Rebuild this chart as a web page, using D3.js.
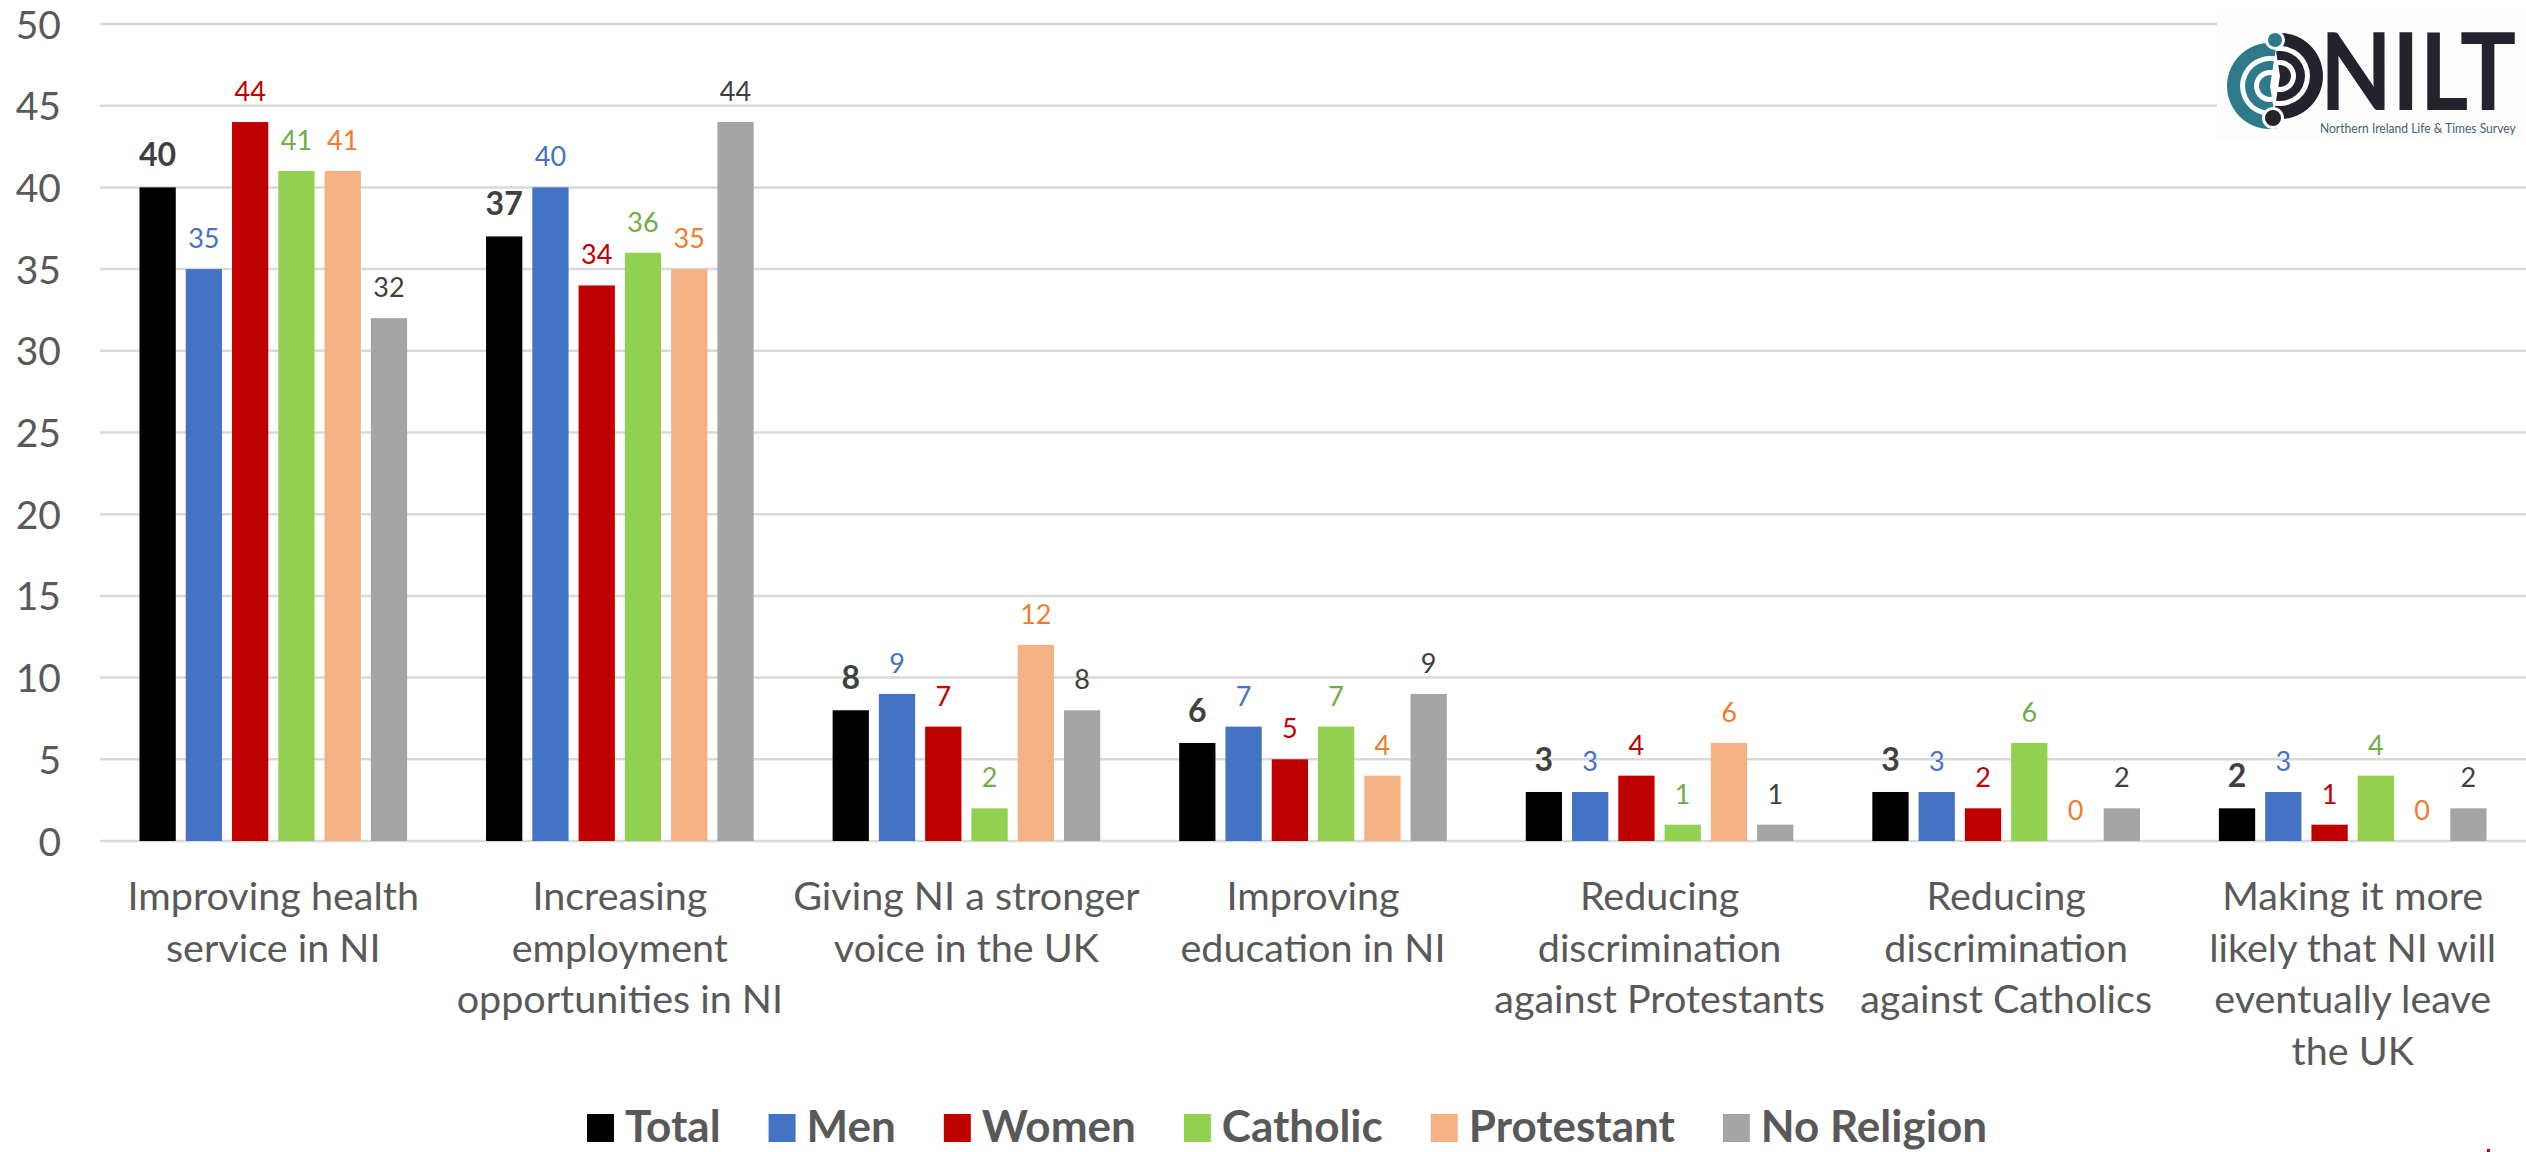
<!DOCTYPE html>
<html>
<head>
<meta charset="utf-8">
<script src="https://cdn.jsdelivr.net/npm/d3@7"></script>
<style>
  html, body { margin: 0; padding: 0; background: #ffffff; }
  svg { display: block; }
  text { font-family: Lato, "Open Sans", "Noto Sans", sans-serif; }
</style>
</head>
<body>
<svg id="chart" width="2526" height="1152"></svg>
<script>
// ---------- data ----------
const categories = [
  "Improving health service in NI",
  "Increasing employment opportunities in NI",
  "Giving NI a stronger voice in the UK",
  "Improving education in NI",
  "Reducing discrimination against Protestants",
  "Reducing discrimination against Catholics",
  "Making it more likely that NI will eventually leave the UK"
];
const categoryLines = [
  ["Improving health", "service in NI"],
  ["Increasing", "employment", "opportunities in NI"],
  ["Giving NI a stronger", "voice in the UK"],
  ["Improving", "education in NI"],
  ["Reducing", "discrimination", "against Protestants"],
  ["Reducing", "discrimination", "against Catholics"],
  ["Making it more", "likely that NI will", "eventually leave", "the UK"]
];
const seriesNames = ["Total", "Men", "Women", "Catholic", "Protestant", "No Religion"];
const totalValues      = [40, 37, 8, 6, 3, 3, 2];
const menValues        = [35, 40, 9, 7, 3, 3, 3];
const womenValues      = [44, 34, 7, 5, 4, 2, 1];
const catholicValues   = [41, 36, 2, 7, 1, 6, 4];
const protestantValues = [41, 35, 12, 4, 6, 0, 0];
const noReligionValues = [32, 44, 8, 9, 1, 2, 2];
const yTicks = [0, 5, 10, 15, 20, 25, 30, 35, 40, 45, 50];

// ---------- styles ----------
const barColors   = ["#000000", "#4472C4", "#C00000", "#92D050", "#F4B183", "#A5A5A5"];
const labelColors = ["#404040", "#4472C4", "#C00000", "#70AD47", "#ED7D31", "#404040"];
const labelBold   = [true, false, false, false, false, false];

const seriesValues = [totalValues, menValues, womenValues, catholicValues, protestantValues, noReligionValues];
const table = categories.map((c, i) => {
  const row = { category: c, lines: categoryLines[i] };
  seriesNames.forEach((s, j) => row[s] = seriesValues[j][i]);
  return row;
});

const svg = d3.select("#chart");
const plot = { left: 100, right: 2526, top: 24, bottom: 841 };

const x0 = d3.scaleBand().domain(categories).range([plot.left, plot.right]).paddingInner(0).paddingOuter(0);
const x1 = d3.scaleBand().domain(seriesNames).range([0, x0.bandwidth()]).paddingInner(0.216).paddingOuter(0.853);
const y = d3.scaleLinear().domain([0, 50]).range([plot.bottom, plot.top]);

// gridlines
svg.append("g").selectAll("line").data(yTicks).join("line")
  .attr("x1", plot.left).attr("x2", plot.right)
  .attr("y1", d => y(d)).attr("y2", d => y(d))
  .attr("stroke", "#D9D9D9").attr("stroke-width", 2.5);

// y axis labels
const yAxis = d3.axisLeft(y).tickValues(yTicks).tickSize(0).tickPadding(0);
const gy = svg.append("g").attr("transform", `translate(61,0)`).call(yAxis);
gy.select(".domain").remove();
gy.selectAll("text").attr("fill", "#595959").attr("font-size", 39)
  .attr("font-family", "Lato, 'Open Sans', sans-serif").attr("dy", "0.36em");

// bars
const groups = svg.append("g").selectAll("g").data(table).join("g")
  .attr("transform", d => `translate(${x0(d.category)},0)`);

groups.selectAll("rect").data(d => seriesNames.map((s, j) => ({ s, j, v: d[s] }))).join("rect")
  .attr("x", d => x1(d.s))
  .attr("width", x1.bandwidth())
  .attr("y", d => y(d.v))
  .attr("height", d => y(0) - y(d.v))
  .attr("fill", d => barColors[d.j]);

groups.selectAll("text.val").data(d => seriesNames.map((s, j) => ({ s, j, v: d[s] }))).join("text")
  .attr("class", "val")
  .attr("x", d => x1(d.s) + x1.bandwidth() / 2)
  .attr("y", d => y(d.v) - 21)
  .attr("text-anchor", "middle")
  .attr("font-size", d => labelBold[d.j] ? 32 : 27)
  .attr("font-weight", d => labelBold[d.j] ? 700 : 400)
  .attr("fill", d => labelColors[d.j])
  .text(d => d.v);

// category labels
const xAxisG = svg.append("g");
table.forEach(d => {
  const cx = x0(d.category) + x0.bandwidth() / 2;
  const t = xAxisG.append("text")
    .attr("x", cx).attr("y", 910)
    .attr("text-anchor", "middle")
    .attr("font-size", 39.5)
    .attr("fill", "#595959");
  d.lines.forEach((ln, k) => {
    t.append("tspan").attr("x", cx).attr("y", 910 + k * 51.5).text(ln);
  });
});

// legend
const legend = svg.append("g");
const items = seriesNames.map((s, j) => {
  const g = legend.append("g");
  g.append("rect").attr("x", 0).attr("y", 1114).attr("width", 27).attr("height", 28).attr("fill", barColors[j]);
  const t = g.append("text").attr("x", 38).attr("y", 1142)
    .attr("font-size", 44).attr("font-weight", 700).attr("fill", "#595959").text(s);
  return { g, w: 38 + t.node().getComputedTextLength() };
});
const gap = 48;
const totalW = d3.sum(items, d => d.w) + gap * (items.length - 1);
let lx = 1287 - totalW / 2;
items.forEach(it => { it.g.attr("transform", `translate(${lx},0)`); lx += it.w + gap; });

// logo
const logo = svg.append("g");
logo.append("rect").attr("x", 2217).attr("y", 14).attr("width", 309).attr("height", 127).attr("fill", "#fdfdfd");
const teal = "#2E7A8A", dark = "#25222E";
const arc = d3.arc();
const tc = [2270, 86];
[[30, 43], [16, 25], [0, 11]].forEach(([ri, ro]) => {
  logo.append("path").attr("transform", `translate(${tc[0]},${tc[1]})`)
    .attr("d", arc({ innerRadius: ri, outerRadius: ro, startAngle: Math.PI * 0.95, endAngle: Math.PI * 2.05 }))
    .attr("fill", teal);
});
const dc = [2280, 76];
[[30, 43], [16, 25], [0, 11]].forEach(([ri, ro]) => {
  logo.append("path").attr("transform", `translate(${dc[0]},${dc[1]})`)
    .attr("d", arc({ innerRadius: ri, outerRadius: ro, startAngle: -0.05 * Math.PI, endAngle: Math.PI * 1.05 }))
    .attr("fill", dark);
});
logo.append("circle").attr("cx", 2275).attr("cy", 40).attr("r", 8.5).attr("fill", teal).attr("stroke", "#fdfdfd").attr("stroke-width", 3);
logo.append("circle").attr("cx", 2273).attr("cy", 118).attr("r", 9.5).attr("fill", dark).attr("stroke", "#fdfdfd").attr("stroke-width", 3);
// big wordmark: natural width fitted, stretched vertically to the logo's tall letterforms
const nilt = logo.append("text").attr("x", 0).attr("y", 0).attr("font-size", 90).attr("font-weight", 700)
  .attr("fill", dark).text("NILT");
const nw = nilt.node().getComputedTextLength();
const sx = 196 / nw;
nilt.attr("transform", `translate(2320,110) scale(${sx},1.2)`);
const sub = logo.append("text").attr("x", 0).attr("y", 0).attr("font-size", 12)
  .attr("fill", "#3F6470").text("Northern Ireland Life & Times Survey");
const sw = sub.node().getComputedTextLength();
sub.attr("transform", `translate(2320,133) scale(${196 / sw},1.05)`);

svg.append("rect").attr("x", 2487).attr("y", 1149).attr("width", 3).attr("height", 3).attr("fill", "#C00000");
</script>
</body>
</html>
